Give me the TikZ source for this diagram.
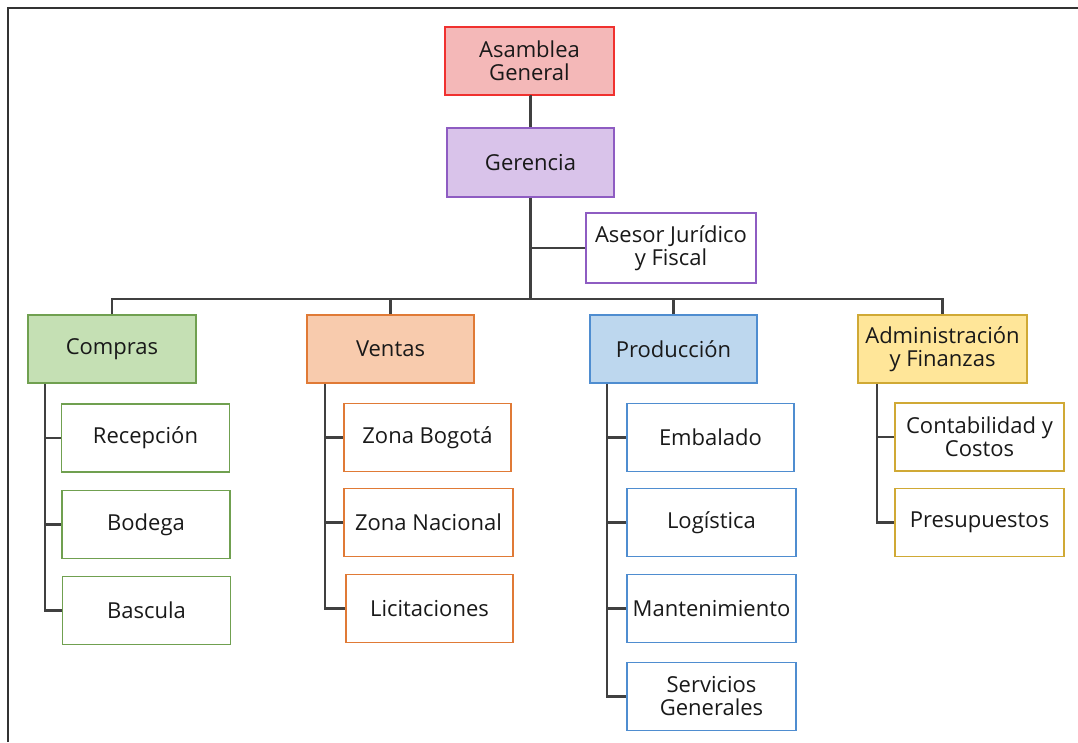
\documentclass[tikz,border=0pt]{standalone}
\usepackage{fontspec}
\setmainfont{Open Sans}
\begin{document}
\begin{tikzpicture}[x=1pt,y=-1pt,
  box/.style={draw, rectangle, line width=1.8pt, minimum height=68pt, minimum width=168pt, inner sep=1pt, align=center, text=black!90, font=\fontsize{22}{23}\selectfont},
  conn/.style={draw=black!75, line width=2.2pt},
  frame/.style={draw=black!80, line width=2.4pt}]
\definecolor{redB}{HTML}{F0312F}
\definecolor{redF}{HTML}{F4B8B8}
\definecolor{purB}{HTML}{8E5CC2}
\definecolor{purF}{HTML}{D9C3EA}
\definecolor{grnB}{HTML}{70A050}
\definecolor{grnF}{HTML}{C5E0B4}
\definecolor{orgB}{HTML}{E07A36}
\definecolor{orgF}{HTML}{F8CBAD}
\definecolor{bluB}{HTML}{4F8DD0}
\definecolor{bluF}{HTML}{BDD7EE}
\definecolor{yelB}{HTML}{D0A935}
\definecolor{yelF}{HTML}{FFE699}
\useasboundingbox (0,0) rectangle (1078,742);
\coordinate (fa) at (8,742);
\coordinate (fb) at (8,8);
\coordinate (fc) at (1078,8);
\draw[frame] (fa) -- (fb) -- (fc);

\node[box, draw=redB, fill=redF, minimum width=169pt] (ag) at (529.5,61) {Asamblea\\General};
\node[box, draw=purB, fill=purF, minimum width=167pt, minimum height=69pt] (ger) at (530.5,162.5) {Gerencia};
\node[box, draw=purB, fill=white, minimum width=170pt, minimum height=70pt] (ase) at (671,248) {Asesor Jurídico\\y Fiscal};

\node[box, draw=grnB, fill=grnF] (com) at (112,349) {Compras};
\node[box, draw=orgB, fill=orgF, minimum width=167pt] (ven) at (390.5,349) {Ventas};
\node[box, draw=bluB, fill=bluF, minimum width=167pt] (pro) at (673.5,349) {Producción};
\node[box, draw=yelB, fill=yelF, minimum width=169pt] (adm) at (942.5,349) {Administración\\y Finanzas};

\node[box, draw=grnB] (rec) at (145.5,438) {Recepción};
\node[box, draw=grnB] (bod) at (146,524.5) {Bodega};
\node[box, draw=grnB] (bas) at (146.5,610.5) {Bascula};

\node[box, draw=orgB, minimum width=167pt] (zb) at (427.5,437.5) {Zona Bogotá};
\node[box, draw=orgB, minimum width=169pt] (zn) at (428.5,522.5) {Zona Nacional};
\node[box, draw=orgB, minimum width=167pt] (lic) at (429.5,608.5) {Licitaciones};

\node[box, draw=bluB, minimum width=167pt] (emb) at (710.5,437.5) {Embalado};
\node[box, draw=bluB, minimum width=169pt] (log) at (711.5,522.5) {Logística};
\node[box, draw=bluB, minimum width=169pt] (man) at (711.5,608.5) {Mantenimiento};
\node[box, draw=bluB, minimum width=169pt] (ser) at (711.5,696.5) {Servicios\\Generales};

\node[box, draw=yelB, minimum width=169pt] (con) at (979.5,437) {Contabilidad y\\Costos};
\node[box, draw=yelB, minimum width=169pt] (pre) at (979.5,522.5) {Presupuestos};

\coordinate (bus) at (0,299);
\coordinate (tc) at (45,0);
\coordinate (tv) at (325,0);
\coordinate (tp) at (607,0);
\coordinate (ta) at (877,0);

\draw[conn] (ag.south) -- (ger.south |- ag.south) -- (ger.north);
\draw[conn] (ger.south) -- (ger.south |- bus);
\draw[conn] (ger.south |- ase.west) -- (ase.west);
\draw[conn] (com.north) -- (com.north |- bus) -- (adm.north |- bus) -- (adm.north);
\draw[conn] (ven.north |- bus) -- (ven.north);
\draw[conn] (pro.north |- bus) -- (pro.north);

\draw[conn] (com.south -| tc) -- (bas.west -| tc) -- (bas.west);
\draw[conn] (rec.west -| tc) -- (rec.west);
\draw[conn] (bod.west -| tc) -- (bod.west);

\draw[conn] (ven.south -| tv) -- (lic.west -| tv) -- (lic.west);
\draw[conn] (zb.west -| tv) -- (zb.west);
\draw[conn] (zn.west -| tv) -- (zn.west);

\draw[conn] (pro.south -| tp) -- (ser.west -| tp) -- (ser.west);
\draw[conn] (emb.west -| tp) -- (emb.west);
\draw[conn] (log.west -| tp) -- (log.west);
\draw[conn] (man.west -| tp) -- (man.west);

\draw[conn] (adm.south -| ta) -- (pre.west -| ta) -- (pre.west);
\draw[conn] (con.west -| ta) -- (con.west);
\end{tikzpicture}
\end{document}
